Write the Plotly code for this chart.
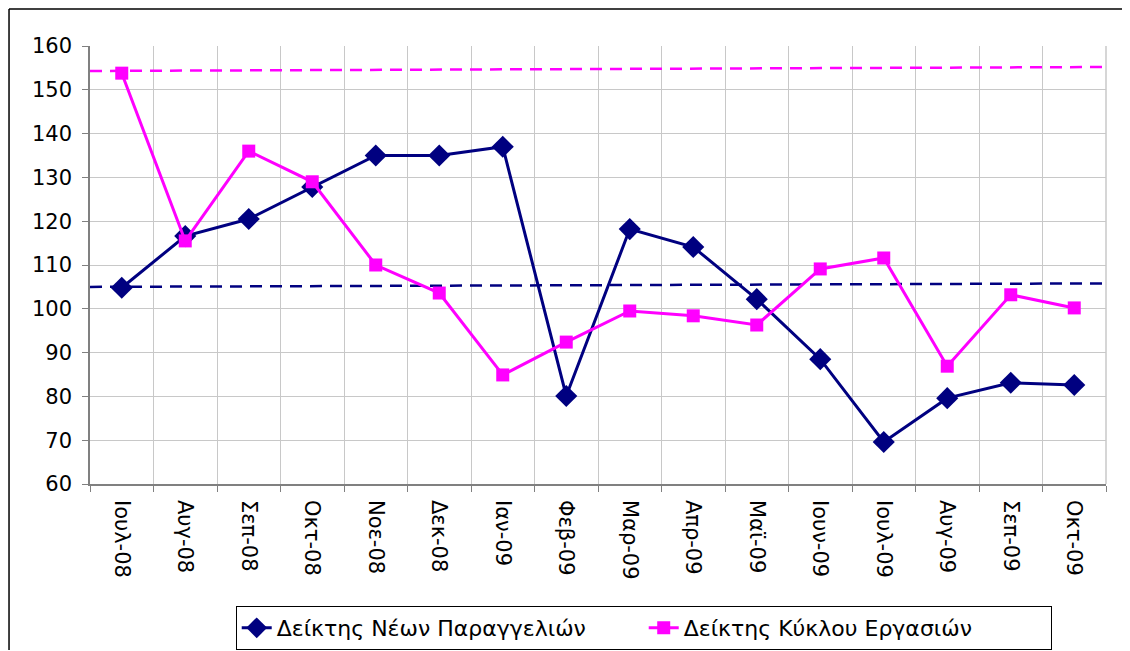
import plotly.graph_objects as go

categories = ["Ιουλ-08", "Αυγ-08", "Σεπ-08", "Οκτ-08", "Νοε-08", "Δεκ-08", "Ιαν-09", "Φεβ-09",
              "Μαρ-09", "Απρ-09", "Μαϊ-09", "Ιουν-09", "Ιουλ-09", "Αυγ-09", "Σεπ-09", "Οκτ-09"]
new_orders = [104.8, 116.6, 120.5, 127.8, 135.0, 135.0, 137.0, 80.1,
              118.2, 114.1, 102.2, 88.5, 69.6, 79.6, 83.1, 82.6]
turnover = [153.8, 115.5, 136.0, 129.0, 110.0, 103.6, 84.9, 92.4,
            99.5, 98.4, 96.3, 109.1, 111.6, 86.9, 103.2, 100.2]
# dashed reference lines (start/end values across the plot)
new_orders_ref = [105.0, 105.8]
turnover_ref = [154.3, 155.2]
y_ticks = [60, 70, 80, 90, 100, 110, 120, 130, 140, 150, 160]

NAVY = "#000080"
MAGENTA = "#ff00ff"
FONT = "DejaVu Sans"

idx = list(range(len(categories)))
edges = [-0.5, len(categories) - 0.5]
bounds = [i - 0.5 for i in range(len(categories) + 1)]

fig = go.Figure()
fig.add_trace(go.Scatter(x=edges, y=turnover_ref, mode="lines",
                         line=dict(color=MAGENTA, width=2.5, dash="12px,8px"),
                         showlegend=False, hoverinfo="skip"))
fig.add_trace(go.Scatter(x=edges, y=new_orders_ref, mode="lines",
                         line=dict(color=NAVY, width=2.5, dash="12px,8px"),
                         showlegend=False, hoverinfo="skip"))
fig.add_trace(go.Scatter(x=idx, y=new_orders, mode="lines+markers",
                         name="Δείκτης Νέων Παραγγελιών",
                         line=dict(color=NAVY, width=3),
                         marker=dict(symbol="diamond", size=17, color=NAVY)))
fig.add_trace(go.Scatter(x=idx, y=turnover, mode="lines+markers",
                         name="Δείκτης Κύκλου Εργασιών",
                         line=dict(color=MAGENTA, width=3),
                         marker=dict(symbol="square", size=13, color=MAGENTA)))

W, H = 1114, 642
L, T = 82, 38
PW, PH = 1016, 438

fig.update_layout(
    width=W, height=H,
    margin=dict(l=L, r=W - L - PW, t=T, b=H - T - PH, autoexpand=False),
    paper_bgcolor="white", plot_bgcolor="white",
    font=dict(family=FONT, size=21, color="black"),
    legend=dict(orientation="h", x=0.545, xanchor="center",
                yref="container", y=1 - 598 / H, yanchor="top",
                bordercolor="black", borderwidth=1, font=dict(size=22),
                entrywidth=362, entrywidthmode="pixels"),
    shapes=[dict(type="line", xref="paper", yref="paper", x0=-0.0797, x1=1.1, y0=1.0845, y1=1.0845,
                 line=dict(color="black", width=1.5)),
            dict(type="line", xref="paper", yref="paper", x0=-0.0797, x1=-0.0797, y0=1.0845, y1=-0.5,
                 line=dict(color="black", width=1.5))],
)
fig.update_xaxes(
    range=edges, tickmode="array", tickvals=idx, ticktext=categories, tickangle=90,
    showgrid=False, ticks="", showline=True, linecolor="#808080", linewidth=1.5,
    mirror=False, zeroline=False, ticklabelstandoff=10, automargin=False,
    minor=dict(tickmode="array", tickvals=bounds, showgrid=True, gridcolor="#c8c8c8",
               gridwidth=1, ticks="outside", ticklen=6, tickcolor="#808080"),
)
fig.update_yaxes(
    range=[60, 160], tickmode="array", tickvals=y_ticks, showgrid=True, gridcolor="#c8c8c8",
    gridwidth=1, ticks="outside", ticklen=6, tickcolor="#808080", ticklabelstandoff=6,
    showline=True, linecolor="#808080", linewidth=1.5, zeroline=False, automargin=False,
)
fig.add_shape(type="line", xref="paper", yref="paper", x0=1, x1=1, y0=0, y1=1,
              line=dict(color="#c8c8c8", width=1.5))

fig.write_html("out.html")
